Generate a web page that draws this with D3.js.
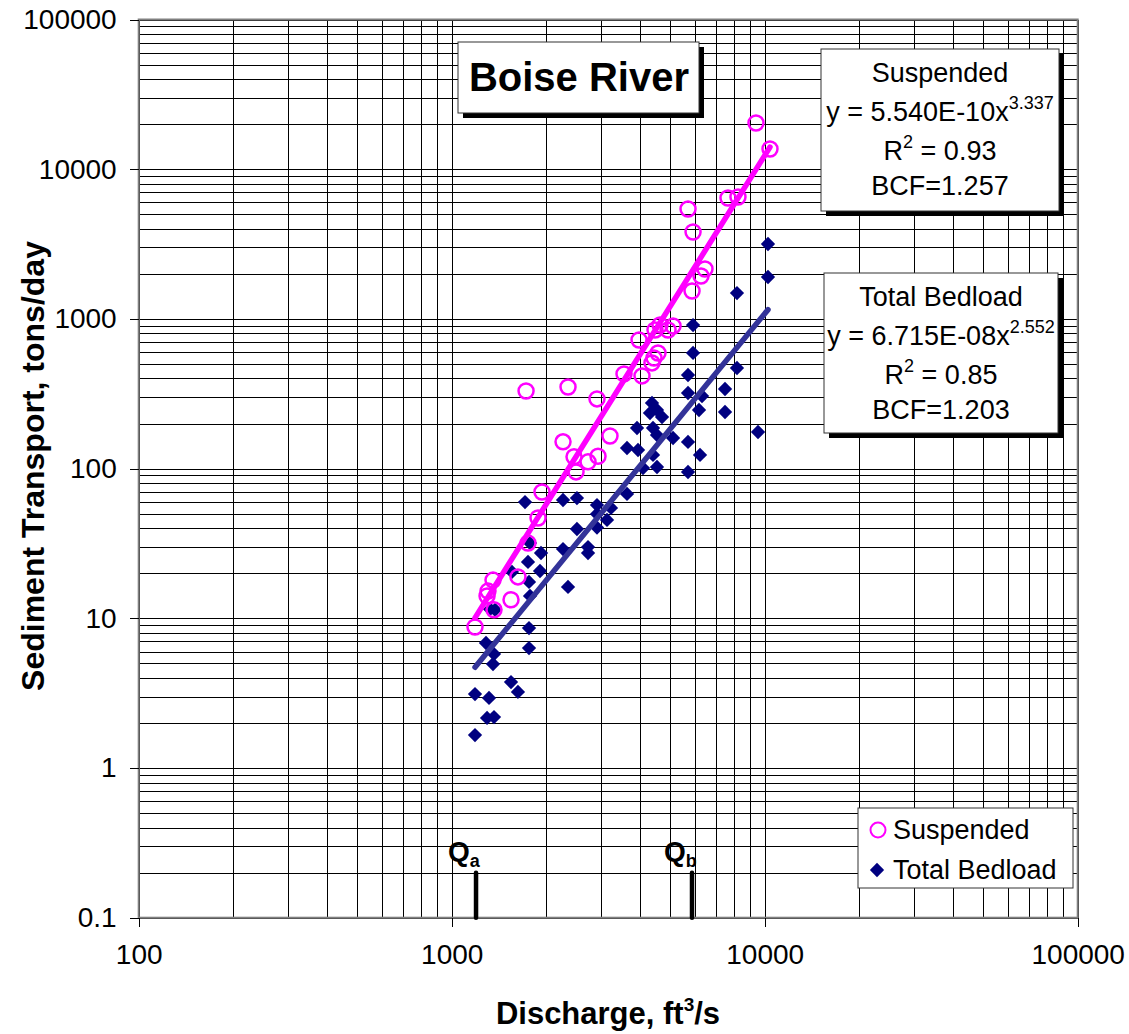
<!DOCTYPE html>
<html>
<head>
<meta charset="utf-8">
<script src="https://cdn.jsdelivr.net/npm/d3@7"></script>
<style>
  body { margin: 0; background: #fff; }
  svg { font-family: Arial, "Liberation Sans", sans-serif; }
  .grid line { stroke: #000; stroke-width: 1; shape-rendering: crispEdges; }
  .axis text { font-size: 28px; fill: #000; }
  .axis line { stroke: #000; shape-rendering: crispEdges; }
  .axis path { display: none; }
</style>
</head>
<body>
<div id="chart"></div>
<script>
// discharge, ft3/s and transport, tons/day
var suspQ = [1187, 1306, 1297, 1355, 1365, 1547, 1628, 1753, 1887, 1943,
             1728, 2353, 2268, 2459, 2496, 2726, 2934, 2912, 3204, 3552,
             4055, 3967, 4364, 4429, 4561, 4462, 4629, 4911, 5095, 5859,
             6259, 6445, 5903, 5689, 7633, 8215, 9380, 10397];
var suspT = [8.75, 15.2, 14.1, 18.0, 11.4, 13.3, 18.9, 31.8, 46.8, 69.8,
             330, 351, 151, 120, 95, 111, 121, 292, 165, 429,
             416, 723, 508, 548, 592, 843, 910, 843, 897, 1536,
             1934, 2154, 3806, 5421, 6421, 6521, 20350, 13640];

var bedQ = [1187, 1297, 1365, 1187, 1316, 1547, 1628, 1287, 1365, 1355,
            1766, 1766, 1326, 1376, 1558, 1753, 1779, 1929, 1915, 1766,
            1779, 1715, 2268, 2513, 2353, 2268, 2726, 2726, 2912, 3228,
            2912, 3135, 2513, 2912, 3632, 3632, 3938, 4085, 4397, 4528,
            3909, 4397, 4528, 5095, 5689, 6214, 5689, 4364, 4528, 4300,
            4698, 5689, 5689, 6306, 6168, 7468, 7468, 9520, 5903, 5903,
            8155, 8155, 10245, 10245];
var bedT = [1.66, 2.16, 2.19, 3.12, 2.94, 3.75, 3.22, 6.84, 5.77, 4.95,
            8.61, 6.33, 11.5, 11.4, 20.4, 23.8, 31.8, 27.3, 20.7, 17.5,
            14.1, 59.8, 61.7, 63.6, 16.2, 29.0, 29.9, 27.3, 57.1, 54.6,
            49.7, 45.4, 39.5, 40.4, 67.7, 137.3, 133.1, 100.9, 123.3, 102.5,
            186.7, 186.7, 167.6, 160.1, 150.6, 123.3, 94.9, 274.3, 246.3, 235.2,
            221.2, 422, 319.9, 305.5, 246.3, 340.2, 238.8, 175.6, 910, 592,
            1489, 470, 3165, 1905];

// power-law fits printed on the chart: y = a * x^b
var suspFit = [5.540e-10, 3.337];
var bedFit = [6.715e-08, 2.552];

var xTicks = [100, 1000, 10000, 100000];
var yTicks = [0.1, 1, 10, 100, 1000, 10000, 100000];

var qMarks = [1196, 5858];
var qNames = ["a", "b"];

var W = 1129, H = 1034;
var margin = {top: 19.5, left: 138.7, right: 51.3, bottom: 116.3};
var width = W - margin.left - margin.right,
    height = H - margin.top - margin.bottom;

var x = d3.scaleLog().domain([100, 100000]).range([margin.left, margin.left + width]);
var y = d3.scaleLog().domain([0.1, 100000]).range([margin.top + height, margin.top]);

var svg = d3.select("#chart").append("svg")
  .attr("width", W)
  .attr("height", H);

// gridlines (major + minor)
var grid = svg.append("g").attr("class", "grid");
grid.selectAll("line.v").data(x.ticks()).enter().append("line")
  .attr("x1", function(d) { return Math.round(x(d)) + 0.5; })
  .attr("x2", function(d) { return Math.round(x(d)) + 0.5; })
  .attr("y1", margin.top)
  .attr("y2", margin.top + height);
grid.selectAll("line.h").data(y.ticks()).enter().append("line")
  .attr("y1", function(d) { return Math.round(y(d)) + 0.5; })
  .attr("y2", function(d) { return Math.round(y(d)) + 0.5; })
  .attr("x1", margin.left)
  .attr("x2", margin.left + width);

// plot border
svg.append("rect")
  .attr("x", margin.left).attr("y", margin.top)
  .attr("width", width).attr("height", height)
  .attr("fill", "none").attr("stroke", "#808080").attr("stroke-width", 2);

// axes
svg.append("g")
  .attr("class", "axis")
  .attr("transform", "translate(0," + (margin.top + height) + ")")
  .call(d3.axisBottom(x).tickValues(xTicks).tickSize(9).tickPadding(17)
        .tickFormat(function(d) { return String(d); }));

svg.append("g")
  .attr("class", "axis")
  .attr("transform", "translate(" + margin.left + ",0)")
  .call(d3.axisLeft(y).tickValues(yTicks).tickSize(9).tickPadding(13)
        .tickFormat(function(d) { return String(d); }));

// Qa / Qb markers
var qg = svg.append("g");
qMarks.forEach(function(q, i) {
  qg.append("line")
    .attr("x1", x(q)).attr("x2", x(q))
    .attr("y1", y(0.1)).attr("y2", y(0.2))
    .attr("stroke", "#000").attr("stroke-width", 4.5)
    .attr("stroke-linecap", "round");
  var t = qg.append("text")
    .attr("x", x(q) - 28)
    .attr("y", y(0.2) - 12)
    .attr("font-weight", "bold")
    .attr("font-size", 28);
  t.append("tspan").text("Q");
  t.append("tspan").attr("font-size", 18).attr("dy", 6).text(qNames[i]);
});

// markers
svg.append("g").selectAll("path")
  .data(bedQ).enter().append("path")
  .attr("d", d3.symbol().type(d3.symbolDiamond2).size(130))
  .attr("transform", function(d, i) {
    return "translate(" + x(d) + "," + y(bedT[i]) + ")";
  })
  .attr("fill", "#000080");

svg.append("g").selectAll("circle")
  .data(suspQ).enter().append("circle")
  .attr("cx", function(d) { return x(d); })
  .attr("cy", function(d, i) { return y(suspT[i]); })
  .attr("r", 7.5)
  .attr("fill", "none")
  .attr("stroke", "#ff00ff")
  .attr("stroke-width", 2.5);

// trend lines
function fitLine(qs, fit) {
  var ext = d3.extent(qs);
  return ext.map(function(q) { return [x(q), y(fit[0] * Math.pow(q, fit[1]))]; });
}
svg.append("path")
  .attr("d", d3.line()(fitLine(suspQ, suspFit)))
  .attr("stroke", "#ff00ff").attr("stroke-width", 5.5)
  .attr("stroke-linecap", "round").attr("fill", "none");
svg.append("path")
  .attr("d", d3.line()(fitLine(bedQ, bedFit)))
  .attr("stroke", "#333399").attr("stroke-width", 5.5)
  .attr("stroke-linecap", "round").attr("fill", "none");

// shadowed boxes
function shadowBox(x0, y0, w, h) {
  svg.append("rect").attr("x", x0 + 5).attr("y", y0 + 5)
    .attr("width", w).attr("height", h).attr("fill", "#000");
  svg.append("rect").attr("x", x0).attr("y", y0)
    .attr("width", w).attr("height", h)
    .attr("fill", "#fff").attr("stroke", "#333").attr("stroke-width", 1);
}

shadowBox(458, 42, 241, 71);
svg.append("text")
  .attr("x", 579).attr("y", 91)
  .attr("text-anchor", "middle")
  .attr("font-weight", "bold").attr("font-size", 40)
  .text("Boise River");

function fitBox(x0, y0, w, h, name, fit, r2, bcf, coefStr) {
  shadowBox(x0, y0, w, h);
  var cx = x0 + w / 2;
  var g = svg.append("g").attr("font-size", 27).attr("text-anchor", "middle");
  g.append("text").attr("x", cx).attr("y", y0 + 33).text(name);
  var eq = g.append("text").attr("x", cx).attr("y", y0 + 72);
  eq.append("tspan").text("y = " + coefStr + "x");
  eq.append("tspan").attr("font-size", 18).attr("dy", -12).text(fit[1].toFixed(3));
  var r = g.append("text").attr("x", cx).attr("y", y0 + 111);
  r.append("tspan").text("R");
  r.append("tspan").attr("font-size", 18).attr("dy", -12).text("2");
  r.append("tspan").attr("dy", 12).text(" = " + r2);
  g.append("text").attr("x", cx).attr("y", y0 + 146).text("BCF=" + bcf);
}

fitBox(821, 49, 238, 162, "Suspended", suspFit, "0.93", "1.257", "5.540E-10");
fitBox(824, 273, 234, 160, "Total Bedload", bedFit, "0.85", "1.203", "6.715E-08");

// legend
var lg = svg.append("g");
lg.append("rect").attr("x", 858).attr("y", 808).attr("width", 215).attr("height", 80)
  .attr("fill", "#fff").attr("stroke", "#333").attr("stroke-width", 1);
lg.append("circle").attr("cx", 878).attr("cy", 830).attr("r", 7.5)
  .attr("fill", "none").attr("stroke", "#ff00ff").attr("stroke-width", 2);
lg.append("path")
  .attr("d", d3.symbol().type(d3.symbolDiamond2).size(130))
  .attr("transform", "translate(877,870)")
  .attr("fill", "#000080");
lg.append("text").attr("x", 893).attr("y", 839).attr("font-size", 27).text("Suspended");
lg.append("text").attr("x", 893).attr("y", 879).attr("font-size", 27).text("Total Bedload");

// axis titles
var xt = svg.append("text")
  .attr("x", 608).attr("y", 1024)
  .attr("text-anchor", "middle")
  .attr("font-weight", "bold").attr("font-size", 31);
xt.append("tspan").text("Discharge, ft");
xt.append("tspan").attr("font-size", 19).attr("dy", -13).text("3");
xt.append("tspan").attr("dy", 13).text("/s");

svg.append("text")
  .attr("transform", "translate(44,466) rotate(-90)")
  .attr("text-anchor", "middle")
  .attr("font-weight", "bold").attr("font-size", 32)
  .text("Sediment Transport, tons/day");
</script>
</body>
</html>
